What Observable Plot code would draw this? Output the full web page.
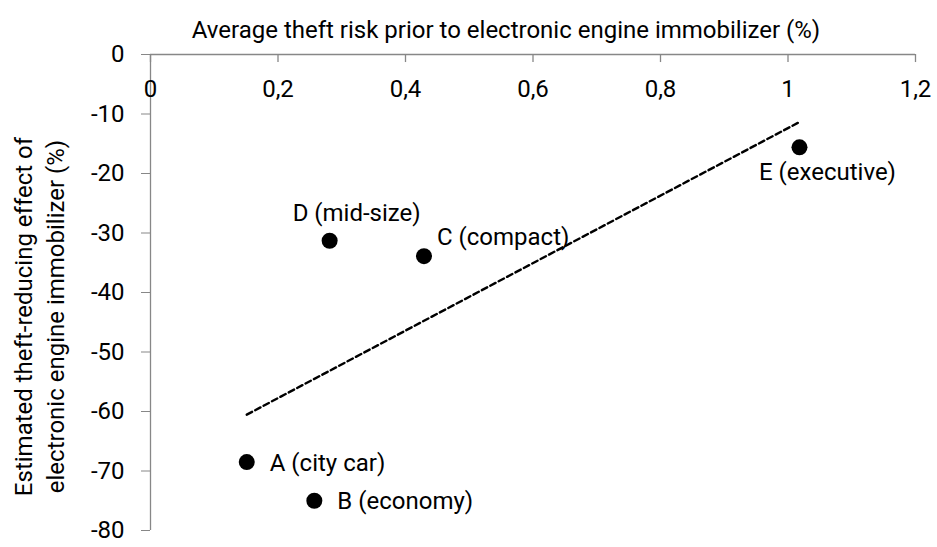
<!DOCTYPE html>
<html>
<head>
<meta charset="utf-8">
<script src="https://cdn.jsdelivr.net/npm/d3@7"></script>
<script src="https://cdn.jsdelivr.net/npm/@observablehq/plot@0.6"></script>
<style>
  html, body { margin: 0; padding: 0; background: #fff; }
  #chart svg { display: block; }
</style>
</head>
<body>
<div id="chart"></div>
<script>
const segments = ["A (city car)", "B (economy)", "C (compact)", "D (mid-size)", "E (executive)"];
const theftRisk = [0.151, 0.257, 0.429, 0.281, 1.018];
const effect = [-68.5, -75.0, -33.9, -31.3, -15.6];
const xTicks = [0, 0.2, 0.4, 0.6, 0.8, 1, 1.2];
const xTickLabels = ["0", "0,2", "0,4", "0,6", "0,8", "1", "1,2"];
const yTicks = [0, -10, -20, -30, -40, -50, -60, -70, -80];
const xTitle = "Average theft risk prior to electronic engine immobilizer (%)";
const yTitle = "Estimated theft-reducing effect of\nelectronic engine immobilizer (%)";

const data = segments.map((s, i) => ({segment: s, x: theftRisk[i], y: effect[i]}));
const xTickData = xTicks.map((t, i) => ({t, label: xTickLabels[i]}));

const font = "Roboto, sans-serif";
const fs = 24;
const axisGrey = "#878787";
const textColor = "#000";

const pick = names => data.filter(d => names.includes(d.segment[0]));

const chart = Plot.plot({
  width: 937,
  height: 547,
  marginLeft: 150,
  marginRight: 22,
  marginTop: 54,
  marginBottom: 17,
  style: {fontFamily: font, fontSize: fs + "px", color: textColor, background: "#fff"},
  x: {domain: [0, 1.2], axis: null},
  y: {domain: [-80, 0], axis: null},
  marks: [
    // y axis
    Plot.axisY({ticks: yTicks, tickSize: 9, tickPadding: 17, stroke: axisGrey, tickFormat: d => String(d), fontSize: fs, fill: textColor, label: null}),
    Plot.ruleX([0], {stroke: axisGrey, strokeWidth: 1.3}),
    // x axis at top (y = 0)
    Plot.ruleY([0], {stroke: axisGrey, strokeWidth: 1.3}),
    Plot.ruleX(xTickData, {x: "t", y1: 0, y2: -1.35, stroke: axisGrey, strokeWidth: 1.3}),
    Plot.text(xTickData, {x: "t", y: 0, text: "label", dy: 35, fontSize: fs, fill: textColor}),
    // titles
    Plot.text([xTitle], {frameAnchor: "top", dx: -27, dy: -34, fontSize: fs, fill: textColor}),
    Plot.text([yTitle], {frameAnchor: "left", textAnchor: "middle", dx: -113, dy: 24, rotate: -90, fontSize: fs, lineHeight: 1.33, fill: textColor}),
    // trend line
    Plot.linearRegressionY(data, {x: "x", y: "y", ci: 0, stroke: "#000", strokeWidth: 2.4, strokeDasharray: "6,3.5"}),
    // points
    Plot.dot(data, {x: "x", y: "y", r: 8, fill: "#000", stroke: null}),
    // labels
    Plot.text(pick(["A", "B"]), {x: "x", y: "y", text: "segment", textAnchor: "start", dx: 23, dy: 1, fontSize: fs, fill: textColor}),
    Plot.text(pick(["C"]), {x: "x", y: "y", text: "segment", textAnchor: "start", dx: 13, dy: -19, fontSize: fs, fill: textColor}),
    Plot.text(pick(["D"]), {x: "x", y: "y", text: "segment", dx: 27, dy: -27, fontSize: fs, fill: textColor}),
    Plot.text(pick(["E"]), {x: "x", y: "y", text: "segment", dx: 28, dy: 25, fontSize: fs, fill: textColor})
  ]
});
document.getElementById("chart").appendChild(chart);
</script>
</body>
</html>
